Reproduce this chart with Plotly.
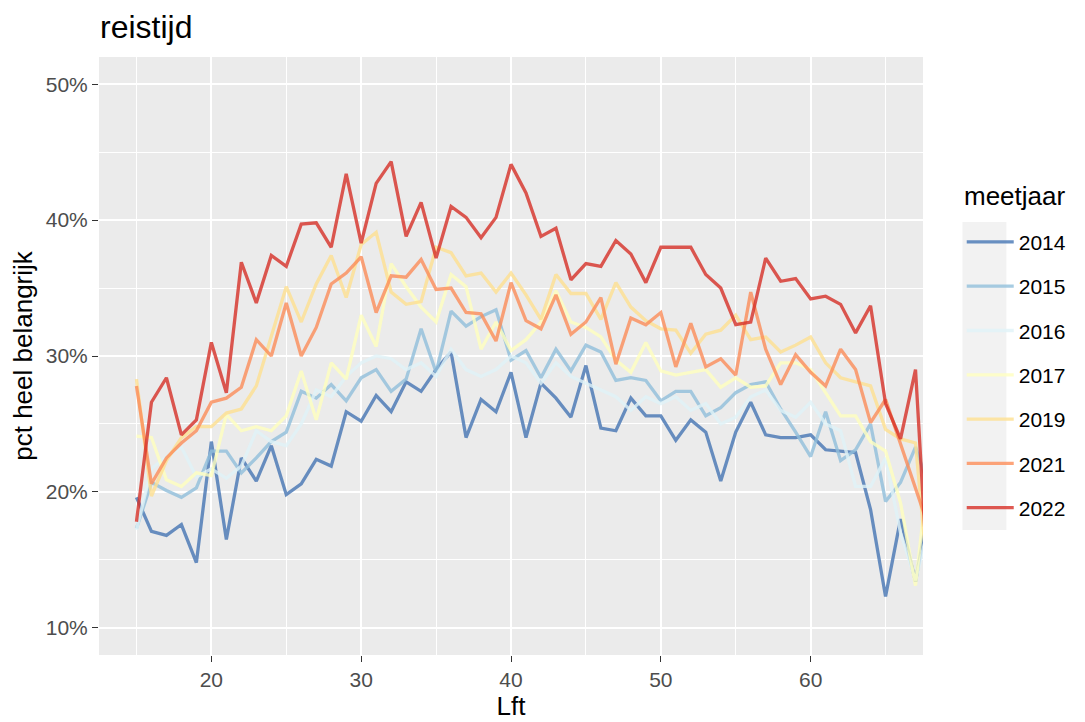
import plotly.graph_objects as go

ages = list(range(15, 69))

y2014 = [19.6, 17.1, 16.8, 17.6, 14.8, 23.7, 16.5, 22.5, 20.8, 23.4,
         19.8, 20.6, 22.4, 21.9, 25.9, 25.2, 27.1, 25.9, 28.1, 27.4,
         29.0, 30.3, 24.0, 26.8, 25.9, 28.8, 24.0, 28.0, 26.9, 25.5,
         29.3, 24.7, 24.5, 26.9, 25.6, 25.6, 23.8, 25.3, 24.4, 20.8,
         24.4, 26.6, 24.2, 24.0, 24.0, 24.2, 23.1, 23.0, 22.9, 18.7,
         12.3, 18.0, 13.4, 19.6]
y2015 = [17.3, 20.7, 20.1, 19.6, 20.3, 23.0, 23.0, 21.4, 22.5, 23.7,
         24.4, 27.4, 26.9, 27.9, 26.7, 28.4, 29.0, 27.4, 28.3, 32.0,
         28.8, 33.3, 32.2, 32.9, 33.4, 29.7, 30.4, 28.4, 30.5, 28.9,
         30.8, 30.3, 28.2, 28.4, 28.2, 26.7, 27.4, 27.4, 25.6, 26.2,
         27.3, 27.9, 28.1, 26.1, 24.4, 22.6, 25.9, 22.3, 23.1, 25.0,
         19.3, 20.7, 23.3, 20.0]
y2016 = [17.2, 21.7, 22.6, 23.3, 21.1, 21.7, 21.0, 21.9, 24.5, 23.7,
         23.4, 25.0, 27.5, 27.0, 28.5, 29.5, 30.0, 29.8, 29.0, 29.5,
         28.5, 30.5, 29.0, 28.5, 29.0, 30.0, 29.5, 28.0, 29.5, 28.5,
         28.0, 27.5, 27.0, 26.0, 27.0, 26.5, 27.0, 26.0, 26.5, 25.0,
         25.5, 27.0, 27.5, 26.0, 25.5, 26.6, 25.0, 24.5, 20.4, 20.4,
         22.5, 17.0, 13.5, 18.0]
y2017 = [24.1, 24.0, 20.9, 20.4, 21.4, 21.2, 25.7, 24.5, 24.8, 24.5,
         25.6, 28.9, 25.3, 29.5, 28.3, 33.0, 30.7, 36.8, 35.1, 33.6,
         32.5, 36.0, 35.1, 30.5, 32.5, 30.4, 31.2, 32.5, 34.8, 32.5,
         32.1, 31.4, 29.7, 28.8, 31.0, 28.9, 28.6, 28.8, 29.0, 27.7,
         28.4, 27.7, 27.8, 29.5, 29.5, 29.0, 27.3, 25.6, 25.6, 23.7,
         23.0, 19.2, 13.1, 23.0]
y2019 = [28.3, 19.7, 22.3, 24.0, 24.8, 24.8, 25.8, 26.1, 27.8, 31.5,
         35.1, 32.5, 35.3, 37.4, 34.3, 38.2, 39.1, 34.7, 33.8, 34.0,
         38.0, 37.6, 35.9, 36.1, 34.7, 36.1, 34.5, 32.7, 36.0, 34.6,
         34.6, 32.7, 35.4, 33.6, 32.6, 32.0, 31.9, 30.2, 31.6, 31.9,
         33.0, 31.2, 31.4, 30.3, 30.8, 31.4, 29.5, 28.4, 28.1, 27.8,
         24.6, 23.9, 23.6, 11.5]
y2021 = [27.8, 20.6, 22.5, 23.6, 24.5, 26.6, 26.9, 27.7, 31.2, 30.0,
         33.9, 30.0, 32.1, 35.3, 36.1, 37.3, 33.2, 35.9, 35.8, 37.1,
         34.9, 35.0, 33.2, 33.1, 31.1, 35.4, 32.6, 32.0, 34.5, 31.6,
         32.5, 34.3, 29.4, 32.8, 32.3, 33.2, 29.2, 32.4, 29.2, 29.8,
         28.6, 34.7, 30.5, 27.9, 30.1, 28.8, 27.8, 30.5, 29.0, 25.1,
         26.8, 23.6, 20.4, 17.0]
y2022 = [17.8, 26.6, 28.4, 24.2, 25.3, 31.0, 27.3, 36.9, 33.9, 37.4,
         36.6, 39.7, 39.8, 38.0, 43.4, 38.3, 42.7, 44.3, 38.8, 41.3,
         37.2, 41.0, 40.2, 38.7, 40.2, 44.1, 42.0, 38.8, 39.4, 35.6,
         36.8, 36.6, 38.5, 37.5, 35.4, 38.0, 38.0, 38.0, 36.0, 35.0,
         32.3, 32.5, 37.2, 35.5, 35.7, 34.2, 34.4, 33.8, 31.7, 33.7,
         26.5, 23.9, 29.0, 10.0]

years = ["2014", "2015", "2016", "2017", "2019", "2021", "2022"]
series = [y2014, y2015, y2016, y2017, y2019, y2021, y2022]
colors = ["#4575B4", "#91BFDB", "#E0F3F8", "#FFFFBF", "#FEE090", "#FC8D59", "#D73027"]

y_ticks = [0.1, 0.2, 0.3, 0.4, 0.5]
x_ticks = [20, 30, 40, 50, 60]

fig = go.Figure()
for yr, vals, col in zip(years, series, colors):
    fig.add_trace(go.Scatter(
        x=ages, y=[v / 100 for v in vals], mode="lines", name=yr,
        legendgroup=yr, opacity=0.8,
        line=dict(color=col, width=3.3),
    ))

font_family = "Liberation Sans, Arial, sans-serif"

# page body has an 8px margin; figure coords = page coords - 8
fig.update_layout(
    width=1085, height=722,
    margin=dict(l=90.5, r=169.5, t=49, b=75),
    paper_bgcolor="white", plot_bgcolor="#EBEBEB",
    font=dict(family=font_family, color="black"),
    title=dict(text="reistijd", x=92 / 1085, xref="container", xanchor="left",
               y=1 - 19 / 722, yref="container", yanchor="middle",
               font=dict(size=32, color="black")),
    legend=dict(
        font=dict(size=21, color="black"),
        x=1.047, xanchor="left", y=0.7245, yanchor="top",
        tracegroupgap=14, itemwidth=47,
        bgcolor="rgba(0,0,0,0)",
    ),
    showlegend=True,
)

fig.add_annotation(text="meetjaar", xref="paper", yref="paper",
                   x=(963 - 98.5) / 825, y=(655 - 196) / 598,
                   xanchor="left", yanchor="middle", showarrow=False,
                   font=dict(size=26, color="black"))

fig.update_xaxes(
    range=[12.5, 67.5], tickvals=x_ticks, ticks="outside", ticklen=6,
    tickcolor="#333333", tickwidth=1.3,
    tickfont=dict(size=21, color="#4D4D4D"),
    title=dict(text="Lft", font=dict(size=26, color="black"), standoff=4),
    showgrid=True, gridcolor="white", gridwidth=2.4, zeroline=False,
    showline=False,
    minor=dict(tickvals=[15, 25, 35, 45, 55, 65], showgrid=True,
               gridcolor="white", gridwidth=1.2, ticks=""),
)
fig.update_yaxes(
    range=[0.08, 0.52], tickvals=y_ticks, tickformat=".0%", ticks="outside",
    ticklen=6, tickcolor="#333333", tickwidth=1.3,
    tickfont=dict(size=21, color="#4D4D4D"),
    title=dict(text="pct heel belangrijk", font=dict(size=26, color="black"), standoff=6),
    showgrid=True, gridcolor="white", gridwidth=2.4, zeroline=False,
    showline=False,
    minor=dict(tickvals=[0.15, 0.25, 0.35, 0.45], showgrid=True,
               gridcolor="white", gridwidth=1.2, ticks=""),
)

fig.add_shape(type="rect", xref="paper", yref="paper",
              x0=(963 - 98.5) / 825, x1=(1007 - 98.5) / 825,
              y0=(655 - 530) / 598, y1=(655 - 222) / 598,
              fillcolor="#F2F2F2", line=dict(width=0), layer="below")

fig.write_html("out.html")
